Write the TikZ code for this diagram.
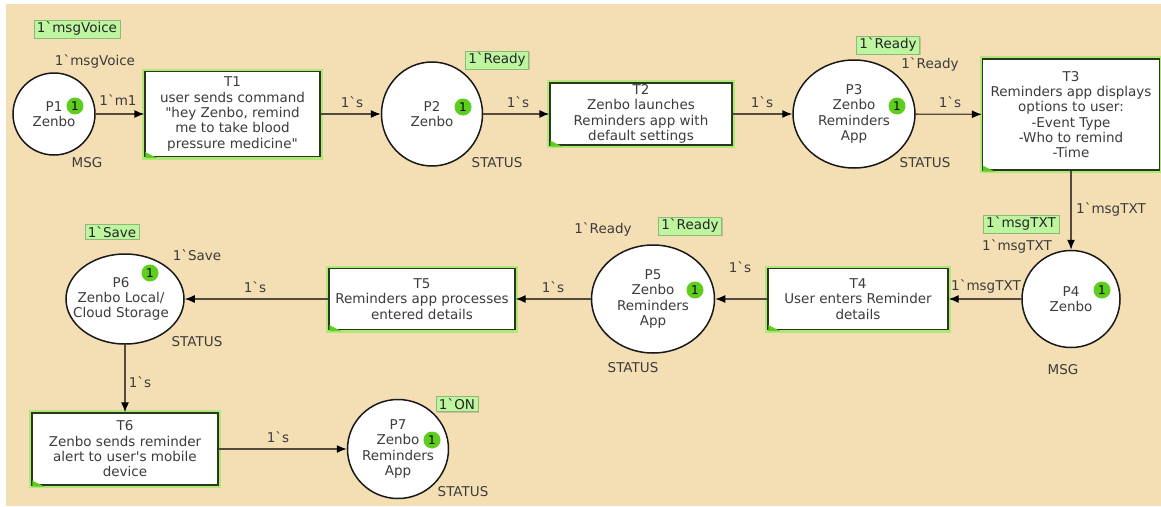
\documentclass[tikz,border=0pt]{standalone}
\usepackage{fontspec}
\setmainfont{DejaVu Sans}
\usepackage{tikz}
\usetikzlibrary{arrows.meta}
\usetikzlibrary{shapes.geometric}
\usetikzlibrary{shadows}
\definecolor{bgwheat}{RGB}{244,222,180}
\definecolor{txtgrey}{RGB}{60,60,60}
\definecolor{arcline}{RGB}{85,75,60}
\definecolor{glowgreen}{RGB}{175,232,120}
\definecolor{tranline}{RGB}{40,55,30}
\definecolor{markfill}{RGB}{190,246,160}
\definecolor{tokfill}{RGB}{95,205,30}
\newcommand{\btick}{\textasciigrave}
\tikzset{>={Latex[length=10pt, width=8pt, color=black]}}
\tikzset{place/.style = {ellipse, draw=black!90, line width=1.5pt, fill=white, inner sep=0pt}}
\tikzset{ptext/.style = {align=center, inner sep=0pt}}
\tikzset{trans/.style = {rectangle, draw=tranline, line width=1.3pt, fill=white, align=center, inner sep=1pt, preaction={draw=glowgreen, line width=6pt}}}
\tikzset{arc/.style = {->, draw=arcline, line width=1.3pt}}
\tikzset{inscr/.style = {inner sep=0pt}}
\tikzset{markbox/.style = {fill=markfill, draw=markfill!75!black, line width=0.5pt, inner xsep=3pt, inner ysep=2pt, text=black!85, drop shadow={shadow xshift=1pt, shadow yshift=-1pt, opacity=0.35}}}
\tikzset{tok/.style = {circle, fill=tokfill, inner sep=0pt, minimum size=17pt, text=black, font=\fontsize{12}{12}\selectfont}}

\begin{document}
\begin{tikzpicture}[x=1pt, y=-1pt, font=\fontsize{13.5}{15.3}\selectfont, text=txtgrey]
\useasboundingbox (0,0) rectangle (1161,506);
\fill [bgwheat] (6,4) rectangle (1161,506);
% places
\node [place, minimum width=82pt, minimum height=82pt] (P1) at (54, 114) {};
\node [place, minimum width=101pt, minimum height=104pt] (P2) at (432, 114) {};
\node [place, minimum width=122pt, minimum height=108pt] (P3) at (854, 114) {};
\node [place, minimum width=98pt, minimum height=97pt] (P4) at (1071, 299) {};
\node [place, minimum width=123pt, minimum height=108pt] (P5) at (653, 299) {};
\node [place, minimum width=118pt, minimum height=90pt] (P6) at (125, 299) {};
\node [place, minimum width=101pt, minimum height=99pt] (P7) at (398, 449) {};
\node [ptext] (P1t) at (P1) {P1\\Zenbo};
\node [ptext] (P2t) at (P2) {P2\\Zenbo};
\node [ptext] (P3t) at (P3) {P3\\Zenbo\\Reminders\\App};
\node [ptext] (P4t) at (P4) {P4\\Zenbo};
\node [ptext] (P5t) at (P5) {P5\\Zenbo\\Reminders\\App};
\node [ptext] (P6t) at (121, 299) {P6\\Zenbo Local/\\Cloud Storage};
\node [ptext] (P7t) at (P7) {P7\\Zenbo\\Reminders\\App};
% transitions
\node [trans, minimum width=175pt, minimum height=85pt] (T1) at (232.5, 114) {T1\\user sends command\\\textquotedbl hey Zenbo, remind\\me to take blood\\pressure medicine\textquotedbl};
\node [trans, minimum width=182pt, minimum height=62pt] (T2) at (641, 114) {T2\\Zenbo launches\\Reminders app with\\default settings};
\node [trans, minimum width=177pt, minimum height=111pt] (T3) at (1071, 114.5) {T3\\Reminders app displays\\options to user:\\-Event Type\\-Who to remind\\-Time};
\node [trans, minimum width=180pt, minimum height=61pt] (T4) at (858, 299) {T4\\User enters Reminder\\details};
\node [trans, minimum width=186pt, minimum height=61pt] (T5) at (422, 299) {T5\\Reminders app processes\\entered details};
\node [trans, minimum width=186pt, minimum height=72pt] (T6) at (125, 449) {T6\\Zenbo sends reminder\\alert to user\textquotesingle s mobile\\device};
\foreach \t in {T1, T2, T3, T4, T5, T6}
  \fill [tokfill] ([shift={(1pt,-1pt)}]\t.south west) -- ++(12,0) -- ++(-12,-6) -- cycle;
% arcs
\draw [arc] (P1) -- (T1);
\draw [arc] (T1) -- (P2);
\draw [arc] (P2) -- (T2);
\draw [arc] (T2) -- (P3);
\draw [arc] (P3) -- (T3);
\draw [arc] (T3) -- (P4);
\draw [arc] (P4) -- (T4);
\draw [arc] (T4) -- (P5);
\draw [arc] (P5) -- (T5);
\draw [arc] (T5) -- (P6);
\draw [arc] (P6) -- (T6);
\draw [arc] (T6) -- (P7);
% arc inscriptions
\node [inscr] (i1) at (118, 100) {1\btick m1};
\node [inscr] (i2) at (352, 102) {1\btick s};
\node [inscr] (i3) at (518, 102) {1\btick s};
\node [inscr] (i4) at (762, 102) {1\btick s};
\node [inscr] (i5) at (950, 102) {1\btick s};
\node [inscr] (i6) at (1111, 210) {1\btick msgTXT};
\node [inscr] (i7) at (986, 287) {1\btick msgTXT};
\node [inscr] (i8) at (740, 267) {1\btick s};
\node [inscr] (i9) at (553, 287) {1\btick s};
\node [inscr] (i10) at (255, 287) {1\btick s};
\node [inscr] (i11) at (140, 382) {1\btick s};
\node [inscr] (i12) at (278, 437) {1\btick s};
% colour sets
\node [inscr] (c1) at (87, 163) {MSG};
\node [inscr] (c2) at (497, 163) {STATUS};
\node [inscr] (c3) at (925, 163) {STATUS};
\node [inscr] (c4) at (1063, 370) {MSG};
\node [inscr] (c5) at (633, 368) {STATUS};
\node [inscr] (c6) at (197, 342) {STATUS};
\node [inscr] (c7) at (463, 492) {STATUS};
% initial markings
\node [inscr] (n1) at (95, 62) {1\btick msgVoice};
\node [inscr] (n3) at (930, 65) {1\btick Ready};
\node [inscr] (n4) at (1017, 247) {1\btick msgTXT};
\node [inscr] (n5) at (603, 230) {1\btick Ready};
\node [inscr] (n6) at (197, 255) {1\btick Save};
% current markings
\node [markbox] (m1) at (77, 29) {1\btick msgVoice};
\node [markbox] (m2) at (497, 60) {1\btick Ready};
\node [markbox] (m3) at (888, 45) {1\btick Ready};
\node [markbox] (m4) at (1021, 224) {1\btick msgTXT};
\node [markbox] (m5) at (690, 226) {1\btick Ready};
\node [markbox] (m6) at (112, 232) {1\btick Save};
\node [markbox] (m7) at (457, 404) {1\btick ON};
% tokens
\node [tok] (k1) at (75, 106) {1};
\node [tok] (k2) at (463, 107) {1};
\node [tok] (k3) at (897, 106) {1};
\node [tok] (k4) at (1102, 290) {1};
\node [tok] (k5) at (695, 290) {1};
\node [tok] (k6) at (150, 273) {1};
\node [tok] (k7) at (432, 440) {1};
\end{tikzpicture}
\end{document}
